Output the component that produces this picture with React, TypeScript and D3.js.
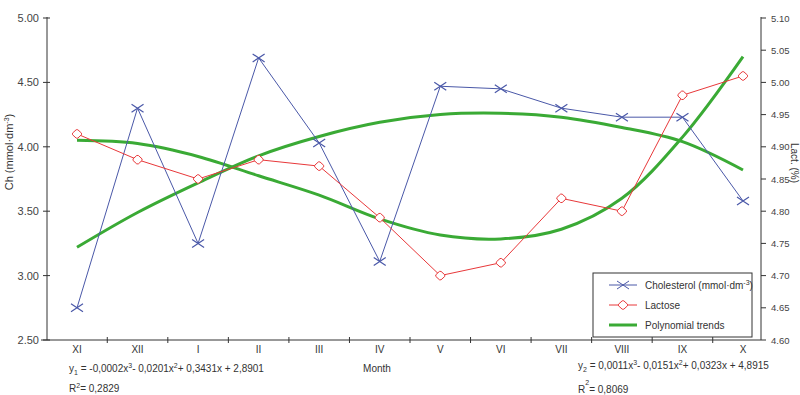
import React, { useEffect, useRef } from 'react';
import * as d3 from 'd3';

// months, Nov -> Oct
const months = ["XI", "XII", "I", "II", "III", "IV", "V", "VI", "VII", "VIII", "IX", "X"];
// cholesterol, mmol/dm3 (left axis)
const cholesterol = [2.75, 4.30, 3.25, 4.69, 4.03, 3.11, 4.47, 4.45, 4.30, 4.23, 4.23, 3.58];
// lactose, % (right axis)
const lactose = [4.92, 4.88, 4.85, 4.88, 4.87, 4.79, 4.70, 4.72, 4.82, 4.80, 4.98, 5.01];
// polynomial trends
const cholTrend = [3.22, 3.49, 3.72, 3.93, 4.08, 4.19, 4.25, 4.26, 4.23, 4.15, 4.04, 3.82];
const lactTrend = [4.91, 4.905, 4.885, 4.855, 4.825, 4.788, 4.763, 4.757, 4.772, 4.82, 4.915, 5.04];

const leftTicks = [2.5, 3.0, 3.5, 4.0, 4.5, 5.0];
const rightTicks = [4.6, 4.65, 4.7, 4.75, 4.8, 4.85, 4.9, 4.95, 5.0, 5.05, 5.1];

const BLUE = "#4a58a8";
const RED = "#e8383a";
const GREEN = "#3aaa35";
const AXIS = "#333";
const FONT = "'Liberation Sans', Arial, sans-serif";

export default function App() {
  const ref = useRef<SVGSVGElement>(null);

  useEffect(() => {
    const svg = d3.select(ref.current);
    svg.selectAll("*").remove();

    const left = 47, right = 761, top = 18, bottom = 340;

    const x = d3.scalePoint<string>().domain(months).range([77, 743]);
    const yL = d3.scaleLinear().domain([2.5, 5.0]).range([bottom, top]);
    const yR = d3.scaleLinear().domain([4.6, 5.1]).range([bottom, top]);

    const g = svg.append("g").style("font-family", FONT);

    // axes lines
    g.append("line").attr("x1", left).attr("x2", left).attr("y1", top - 1).attr("y2", bottom)
      .attr("stroke", AXIS);
    g.append("line").attr("x1", right).attr("x2", right).attr("y1", top - 1).attr("y2", bottom)
      .attr("stroke", AXIS);
    g.append("line").attr("x1", left - 6).attr("x2", right).attr("y1", bottom).attr("y2", bottom)
      .attr("stroke", AXIS);

    // left ticks
    g.selectAll(".lt").data(leftTicks).enter().append("line")
      .attr("x1", left - 4).attr("x2", left + 3)
      .attr("y1", d => yL(d)).attr("y2", d => yL(d))
      .attr("stroke", AXIS);
    g.selectAll(".ll").data(leftTicks).enter().append("text")
      .attr("x", left - 8).attr("y", d => yL(d) + 4)
      .attr("text-anchor", "end")
      .attr("font-size", 11).attr("fill", "#444")
      .text(d => d3.format(".2f")(d));

    // right ticks
    g.selectAll(".rt").data(rightTicks).enter().append("line")
      .attr("x1", right).attr("x2", right + 5)
      .attr("y1", d => yR(d)).attr("y2", d => yR(d))
      .attr("stroke", AXIS);
    g.selectAll(".rl").data(rightTicks).enter().append("text")
      .attr("x", right + 10).attr("y", d => yR(d) + 3.5)
      .attr("font-size", 9.5).attr("fill", "#444")
      .text(d => d3.format(".2f")(d));

    // x ticks between months
    const step = x.step();
    const xTicks = months.slice(1).map(m => (x(m) as number) - step / 2);
    g.selectAll(".xt").data(xTicks).enter().append("line")
      .attr("x1", d => d).attr("x2", d => d)
      .attr("y1", bottom - 3).attr("y2", bottom + 3)
      .attr("stroke", AXIS);
    g.selectAll(".xl").data(months).enter().append("text")
      .attr("x", d => x(d) as number).attr("y", bottom + 13)
      .attr("text-anchor", "middle")
      .attr("font-size", 10).attr("fill", "#333")
      .text(d => d);

    // trend curves
    const lineL = d3.line<number>().x((d, i) => x(months[i]) as number).y(d => yL(d)).curve(d3.curveCatmullRom);
    const lineR = d3.line<number>().x((d, i) => x(months[i]) as number).y(d => yR(d)).curve(d3.curveCatmullRom);
    g.append("path").attr("d", lineL(cholTrend)).attr("fill", "none")
      .attr("stroke", GREEN).attr("stroke-width", 3);
    g.append("path").attr("d", lineR(lactTrend)).attr("fill", "none")
      .attr("stroke", GREEN).attr("stroke-width", 3);

    // data lines
    const lineLs = d3.line<number>().x((d, i) => x(months[i]) as number).y(d => yL(d));
    const lineRs = d3.line<number>().x((d, i) => x(months[i]) as number).y(d => yR(d));
    g.append("path").attr("d", lineLs(cholesterol)).attr("fill", "none")
      .attr("stroke", BLUE).attr("stroke-width", 1);
    g.append("path").attr("d", lineRs(lactose)).attr("fill", "none")
      .attr("stroke", RED).attr("stroke-width", 1);

    const crossPath = "M-6,-4L6,4M-6,4L6,-4";
    const octPath = "M-4.5,-0.8L-0.8,-4.2L0.8,-4.2L4.5,-0.8L4.5,0.8L0.8,4.2L-0.8,4.2L-4.5,0.8Z";

    g.selectAll(".cm").data(cholesterol).enter().append("path")
      .attr("transform", (d, i) => `translate(${x(months[i])},${yL(d)})`)
      .attr("d", crossPath).attr("stroke", BLUE).attr("stroke-width", 1.2).attr("fill", "none");
    g.selectAll(".lm").data(lactose).enter().append("path")
      .attr("transform", (d, i) => `translate(${x(months[i])},${yR(d)})`)
      .attr("d", octPath).attr("stroke", RED).attr("stroke-width", 1).attr("fill", "white");

    // axis titles
    const lt = g.append("text")
      .attr("transform", `translate(13,152) rotate(-90)`)
      .attr("text-anchor", "middle").attr("font-size", 11).attr("fill", "#333");
    lt.append("tspan").text("Ch (mmol·dm");
    lt.append("tspan").attr("font-size", 7).attr("dy", -4).text("-3");
    lt.append("tspan").attr("dy", 4).text(")");

    g.append("text")
      .attr("transform", `translate(790.5,163) rotate(90)`)
      .attr("text-anchor", "middle").attr("font-size", 10).attr("fill", "#333")
      .text("Lact. (%)");

    g.append("text").attr("x", 377).attr("y", 372)
      .attr("text-anchor", "middle").attr("font-size", 10).attr("fill", "#333")
      .text("Month");

    // legend
    const lg = g.append("g");
    lg.append("rect").attr("x", 593).attr("y", 273).attr("width", 159).attr("height", 64)
      .attr("fill", "white").attr("stroke", AXIS);
    const items = [
      { label: "Cholesterol (mmol·dm", sup: "-3", tail: ")", color: BLUE, w: 1, marker: crossPath },
      { label: "Lactose", sup: "", tail: "", color: RED, w: 1, marker: octPath },
      { label: "Polynomial trends", sup: "", tail: "", color: GREEN, w: 3, marker: "" },
    ];
    items.forEach((it, i) => {
      const yy = 285 + i * 20;
      lg.append("line").attr("x1", 609).attr("x2", 637).attr("y1", yy).attr("y2", yy)
        .attr("stroke", it.color).attr("stroke-width", it.w);
      if (it.marker) {
        lg.append("path").attr("transform", `translate(623,${yy})`).attr("d", it.marker)
          .attr("stroke", it.color).attr("fill", it.marker === octPath ? "white" : "none");
      }
      const t = lg.append("text").attr("x", 645).attr("y", yy + 4)
        .attr("font-size", 10).attr("fill", "#333");
      t.append("tspan").text(it.label);
      if (it.sup) {
        t.append("tspan").attr("font-size", 7).attr("dy", -4).text(it.sup);
        t.append("tspan").attr("dy", 4).text(it.tail);
      }
    });

    // equations
    const eq = (xx: number, yy: number, sub: string, parts: string[]) => {
      const t = g.append("text").attr("x", xx).attr("y", yy).attr("font-size", 10).attr("fill", "#333");
      t.append("tspan").text("y");
      t.append("tspan").attr("font-size", 7).attr("dy", 3).text(sub);
      t.append("tspan").attr("dy", -3).text(parts[0]);
      t.append("tspan").attr("font-size", 7).attr("dy", -4).text("3");
      t.append("tspan").attr("dy", 4).text(parts[1]);
      t.append("tspan").attr("font-size", 7).attr("dy", -4).text("2");
      t.append("tspan").attr("dy", 4).text(parts[2]);
    };
    eq(69, 372, "1", [" = -0,0002x", "- 0,0201x", "+ 0,3431x + 2,8901"]);
    eq(578, 369, "2", [" = 0,0011x", "- 0,0151x", "+ 0,0323x + 4,8915"]);

    const r2 = (xx: number, yy: number, val: string, supDy: number) => {
      const t = g.append("text").attr("x", xx).attr("y", yy).attr("font-size", 10).attr("fill", "#333");
      t.append("tspan").text("R");
      t.append("tspan").attr("font-size", 7).attr("dy", supDy).text("2");
      t.append("tspan").attr("dy", -supDy).text("= " + val);
    };
    r2(69, 392, "0,2829", -4);
    r2(578, 393, "0,8069", -8);
  }, []);

  return (
    <svg ref={ref} width={800} height={395}
      style={{ position: "absolute", left: 0, top: 0, background: "white" }} />
  );
}
